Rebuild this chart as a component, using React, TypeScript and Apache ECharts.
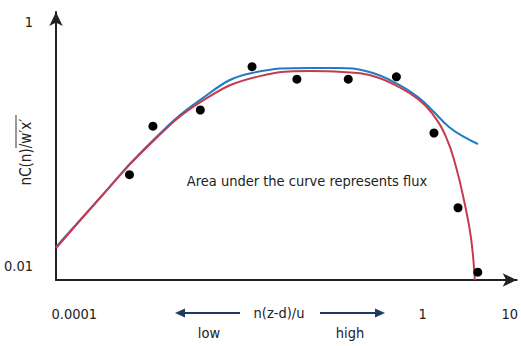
import React, { useEffect, useRef } from "react";
import * as echarts from "echarts";

// Measured spectrum points (frequency n(z-d)/u, normalized cospectrum)
const pointsX = [0.00043, 0.0008, 0.0028, 0.011, 0.036, 0.14, 0.5, 1.35, 2.55, 4.3];
const pointsY = [0.056, 0.14, 0.19, 0.43, 0.34, 0.34, 0.355, 0.123, 0.03, 0.0089];

// Fitted curve (blue)
const blueX = [0.0000617, 0.000201, 0.00062, 0.00279, 0.011, 0.0505, 0.1026, 0.245, 0.539, 0.912, 1.28, 2.01, 3.14, 4.31];
const blueY = [0.0143, 0.0368, 0.0893, 0.23, 0.382, 0.42, 0.42, 0.389, 0.305, 0.238, 0.19, 0.138, 0.112, 0.1];

// Fitted curve (red)
const redX = [0.0000617, 0.000201, 0.00062, 0.0028, 0.0135, 0.0505, 0.12, 0.245, 0.539, 0.912, 1.28, 1.86, 2.42, 2.98, 3.58, 3.98];
const redY = [0.014, 0.0366, 0.088, 0.22, 0.36, 0.396, 0.389, 0.368, 0.293, 0.23, 0.179, 0.114, 0.0647, 0.0347, 0.0173, 0.00768];

// Tick labels shown on each axis, keyed by power of ten
const xTickLabels: Record<number, string> = { [-4]: "0.0001", 0: "1", 1: "10" };
const yTickLabels: Record<number, string> = { [-2]: "0.01", 0: "1" };

const FONT = "'Liberation Sans Narrow', 'DejaVu Sans Condensed', 'Roboto', Arial, sans-serif";
const TEXT = "#222";
const NAVY = "#1d3a63";

function decadeLabel(map: Record<number, string>) {
  return (v: number) => {
    const l = Math.log10(v);
    const e = Math.round(l);
    if (Math.abs(l - e) > 0.01) return "";
    return map[e] ?? "";
  };
}

export default function App() {
  const ref = useRef<HTMLDivElement>(null);

  useEffect(() => {
    if (!ref.current) return;
    const chart = echarts.init(ref.current, undefined, { renderer: "svg" });
    const zip = (xs: number[], ys: number[]) => xs.map((x, i) => [x, ys[i]]);

    const label = (text: string, x: number, y: number, size = 14.5) => ({
      type: "text",
      x,
      y,
      style: {
        text,
        align: "center",
        verticalAlign: "middle",
        font: `${size}px ${FONT}`,
        fill: TEXT,
      },
    });

    chart.setOption({
      animation: false,
      backgroundColor: "#fff",
      grid: { left: 56, right: 3, top: 12, bottom: 66 },
      xAxis: {
        type: "log",
        min: Math.pow(10, -4.21),
        max: Math.pow(10, 1.08),
        axisLine: {
          show: true,
          symbol: ["none", "arrow"],
          symbolSize: [10, 14],
          lineStyle: { color: "#222", width: 2 },
        },
        axisTick: { show: false },
        minorTick: { show: false },
        splitLine: { show: false },
        axisLabel: {
          margin: 26,
          fontFamily: FONT,
          fontSize: 14.5,
          color: TEXT,
          showMinLabel: true,
          showMaxLabel: true,
          hideOverlap: false,
          formatter: decadeLabel(xTickLabels),
        },
      },
      yAxis: {
        type: "log",
        min: Math.pow(10, -2.115),
        max: Math.pow(10, 0.082),
        axisLine: {
          show: true,
          symbol: ["none", "arrow"],
          symbolSize: [10, 14],
          lineStyle: { color: "#222", width: 2 },
        },
        axisTick: { show: false },
        minorTick: { show: false },
        splitLine: { show: false },
        axisLabel: {
          margin: 23,
          fontFamily: FONT,
          fontSize: 14.5,
          color: TEXT,
          showMinLabel: true,
          showMaxLabel: true,
          hideOverlap: false,
          formatter: decadeLabel(yTickLabels),
        },
      },
      series: [
        {
          type: "line",
          data: zip(blueX, blueY),
          smooth: 0.45,
          showSymbol: false,
          lineStyle: { color: "#1d7dc3", width: 2 },
          z: 2,
        },
        {
          type: "line",
          data: zip(redX, redY),
          smooth: 0.45,
          showSymbol: false,
          lineStyle: { color: "#c83a4e", width: 2 },
          z: 3,
        },
        {
          type: "scatter",
          data: zip(pointsX, pointsY),
          symbolSize: 9,
          itemStyle: { color: "#000", opacity: 1 },
          z: 4,
        },
      ],
      graphic: [
        label("Area under the curve represents flux", 307, 181),
        {
          type: "text",
          x: 26,
          y: 152,
          rotation: Math.PI / 2,
          style: {
            text: "nC(n)/w\u2032x\u2032",
            align: "center",
            verticalAlign: "middle",
            font: `15px ${FONT}`,
            fill: TEXT,
          },
        },
        {
          type: "line",
          shape: { x1: 16, y1: 115, x2: 16, y2: 148 },
          style: { stroke: "#333", lineWidth: 1 },
        },
        label("n(z-d)/u", 279, 313),
        {
          type: "line",
          shape: { x1: 240, y1: 313, x2: 182, y2: 313 },
          style: { stroke: NAVY, lineWidth: 2 },
        },
        {
          type: "polygon",
          shape: { points: [[175, 313], [185, 308.5], [185, 317.5]] },
          style: { fill: NAVY },
        },
        {
          type: "line",
          shape: { x1: 320, y1: 313, x2: 377, y2: 313 },
          style: { stroke: NAVY, lineWidth: 2 },
        },
        {
          type: "polygon",
          shape: { points: [[385, 313], [375, 308.5], [375, 317.5]] },
          style: { fill: NAVY },
        },
        label("low", 209, 333),
        label("high", 350, 333),
      ],
    });

    return () => chart.dispose();
  }, []);

  return (
    <div
      ref={ref}
      style={{ position: "fixed", left: 0, top: 0, width: 521, height: 346, background: "#fff" }}
    />
  );
}
